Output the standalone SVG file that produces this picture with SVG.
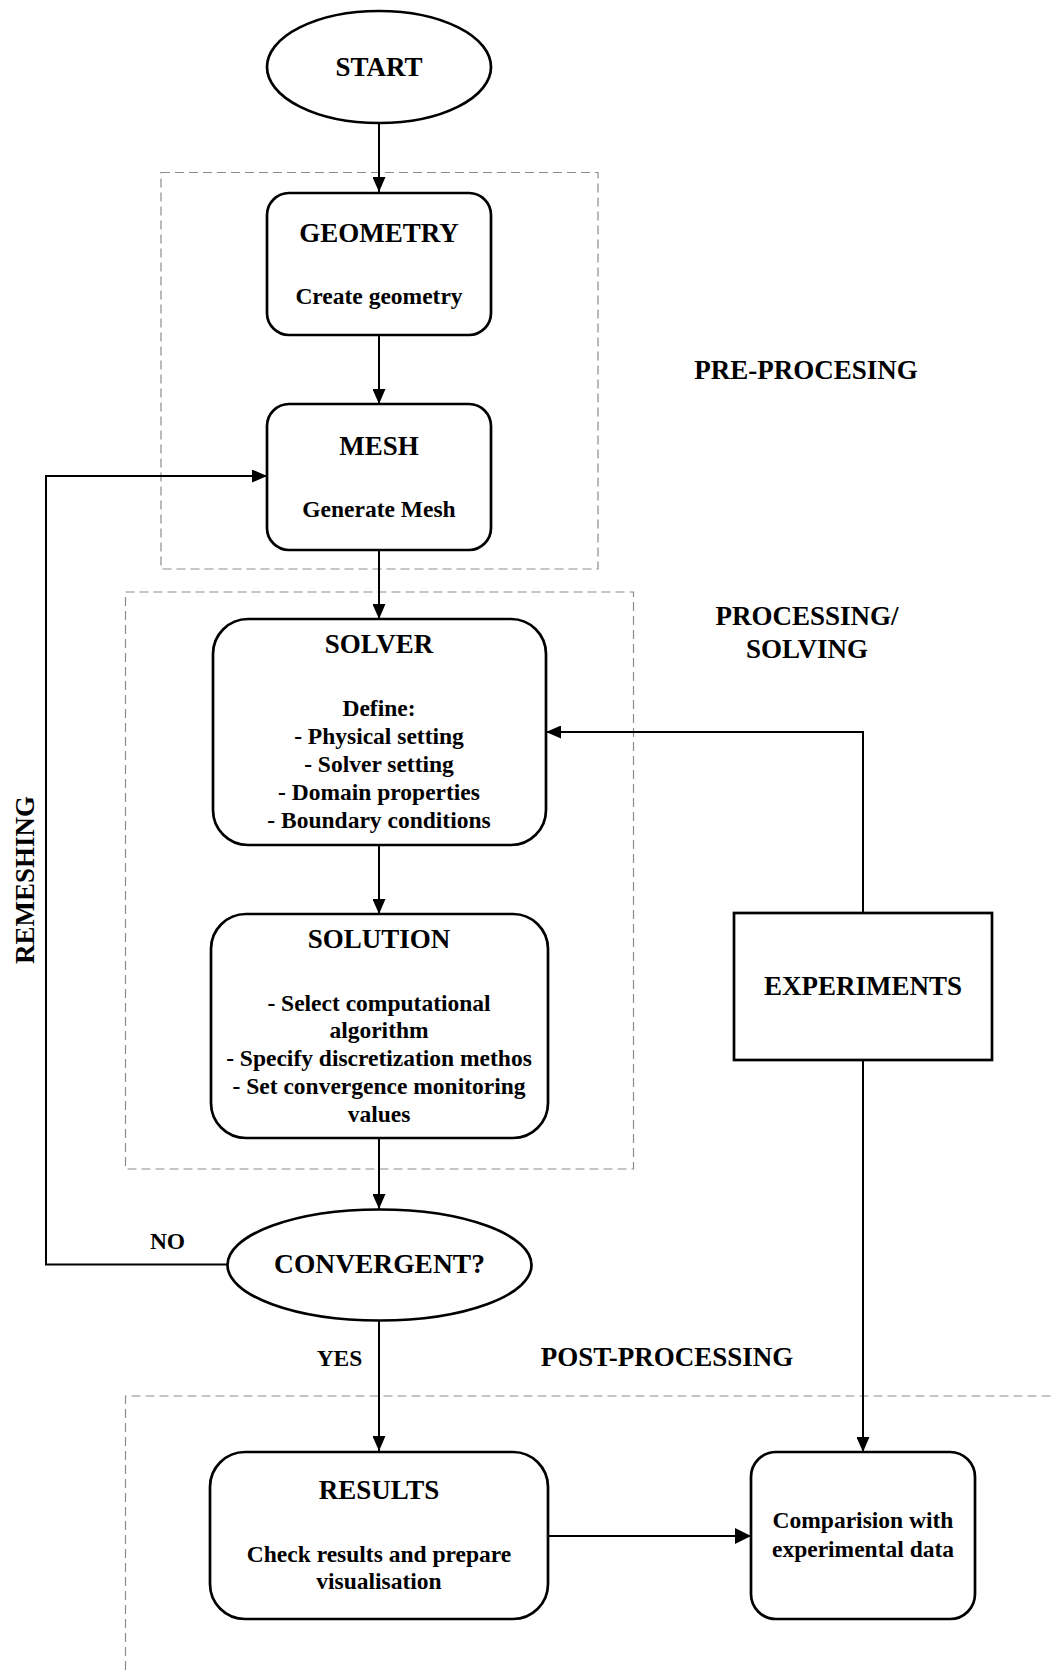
<svg xmlns="http://www.w3.org/2000/svg" width="1051" height="1670" viewBox="0 0 1051 1670">
<style>
  text { font-family: "Liberation Serif", "Times New Roman", serif; font-weight: bold; fill: #000; text-anchor: middle; }
  .t { font-size: 27px; }
  .b { font-size: 23.5px; }
  .node { fill: #fff; stroke: #000; stroke-width: 2.7; }
  .edge { fill: none; stroke: #000; stroke-width: 2; }
  .zone { fill: none; stroke: #8c8c8c; stroke-width: 1.2; stroke-dasharray: 9 5; }
</style>
<defs>
  <marker id="arr" viewBox="0 0 15 13" refX="15" refY="6.5" markerWidth="15" markerHeight="13" markerUnits="userSpaceOnUse" orient="auto">
    <path d="M0,0 L15,6.5 L0,13 z" fill="#000"/>
  </marker>
  <marker id="arrBig" viewBox="0 0 16 16" refX="16" refY="8" markerWidth="16" markerHeight="16" markerUnits="userSpaceOnUse" orient="auto">
    <path d="M0,0 L16,8 L0,16 z" fill="#000"/>
  </marker>
</defs>

<g id="zones">
  <rect class="zone" x="161" y="172.5" width="437" height="396.5"/>
  <rect class="zone" x="125.5" y="592" width="508" height="577"/>
  <path class="zone" d="M125.5,1670 V1396 H1051"/>
  <text class="t" x="806" y="379">PRE-PROCESING</text>
  <text class="t" x="807" y="625">PROCESSING/</text>
  <text class="t" x="807" y="658">SOLVING</text>
  <text class="t" x="667" y="1366">POST-PROCESSING</text>
  <text class="t" transform="translate(34,880) rotate(-90)">REMESHING</text>
</g>

<g id="connectors">
  <path class="edge" d="M379,123 V192" marker-end="url(#arr)"/>
  <path class="edge" d="M379,335 V404" marker-end="url(#arr)"/>
  <path class="edge" d="M379,550 V619" marker-end="url(#arr)"/>
  <path class="edge" d="M379,845 V914" marker-end="url(#arr)"/>
  <path class="edge" d="M379,1138 V1209" marker-end="url(#arr)"/>
  <path class="edge" d="M227.5,1264.5 H46 V476 H267" stroke-width="2.4" marker-end="url(#arr)"/>
  <path class="edge" d="M379,1320 V1451" marker-end="url(#arr)"/>
  <path class="edge" d="M863,913 V732 H546" marker-end="url(#arr)"/>
  <path class="edge" d="M863,1060 V1452" marker-end="url(#arr)"/>
  <path class="edge" d="M548,1536 H751" stroke-width="3" marker-end="url(#arrBig)"/>
  <text class="b" x="167.5" y="1249">NO</text>
  <text class="b" x="339.5" y="1366">YES</text>
</g>

<g id="start">
  <ellipse class="node" cx="379" cy="67" rx="112" ry="56"/>
  <text class="t" x="379" y="76">START</text>
</g>

<g id="geometry">
  <rect class="node" x="267" y="193" width="224" height="142" rx="22" ry="22"/>
  <text class="t" x="379" y="242">GEOMETRY</text>
  <text class="b" x="379" y="304">Create geometry</text>
</g>

<g id="mesh">
  <rect class="node" x="267" y="404" width="224" height="146" rx="22" ry="22"/>
  <text class="t" x="379" y="455">MESH</text>
  <text class="b" x="379" y="517">Generate Mesh</text>
</g>

<g id="solver">
  <rect class="node" x="213" y="619" width="333" height="226" rx="35" ry="35"/>
  <text class="t" x="379" y="653">SOLVER</text>
  <text class="b" x="379" y="716">Define:</text>
  <text class="b" x="379" y="744">- Physical setting</text>
  <text class="b" x="379" y="771.5">- Solver setting</text>
  <text class="b" x="379" y="799.5">- Domain properties</text>
  <text class="b" x="379" y="827.5">- Boundary conditions</text>
</g>

<g id="solution">
  <rect class="node" x="211" y="914" width="337" height="224" rx="35" ry="35"/>
  <text class="t" x="379" y="948">SOLUTION</text>
  <text class="b" x="379" y="1011">- Select computational</text>
  <text class="b" x="379" y="1038">algorithm</text>
  <text class="b" x="379" y="1066">- Specify discretization methos</text>
  <text class="b" x="379" y="1093.5">- Set convergence monitoring</text>
  <text class="b" x="379" y="1121.5">values</text>
</g>

<g id="convergent">
  <ellipse class="node" cx="379.5" cy="1265" rx="152" ry="55.5"/>
  <text class="t" x="379.5" y="1273" style="font-size:27.5px">CONVERGENT?</text>
</g>

<g id="experiments">
  <rect class="node" x="734" y="913" width="258" height="147"/>
  <text class="t" x="863" y="995">EXPERIMENTS</text>
</g>

<g id="results">
  <rect class="node" x="210" y="1452" width="338" height="167" rx="35" ry="35"/>
  <text class="t" x="379" y="1499">RESULTS</text>
  <text class="b" x="379" y="1562">Check results and prepare</text>
  <text class="b" x="379" y="1589">visualisation</text>
</g>

<g id="comparision">
  <rect class="node" x="751" y="1452" width="224" height="167" rx="25" ry="25"/>
  <text class="b" x="863" y="1528">Comparision with</text>
  <text class="b" x="863" y="1557">experimental data</text>
</g>
</svg>
